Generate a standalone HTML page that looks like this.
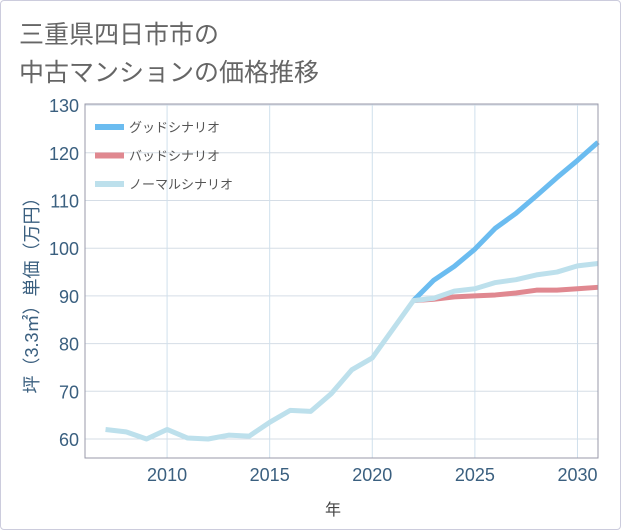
<!DOCTYPE html>
<html><head><meta charset="utf-8"><style>
body{margin:0;background:#fff;font-family:"Liberation Sans","Noto Sans CJK JP",sans-serif}
#wrap{position:relative;width:619px;height:528px;border:1px solid #ccd;border-radius:4px;overflow:hidden}
</style></head><body>
<div id="wrap">
<svg id="c" width="619" height="528">
<text x="18" y="42" font-size="25" fill="#666">三重県四日市市の</text>
<text x="18" y="80" font-size="25" fill="#666">中古マンションの価格推移</text>
<g id="grid"></g><g id="series"></g>
<rect x="84" y="103" width="513" height="354" fill="none" stroke="#99a" stroke-width="1"/>
<g id="legend"></g>
<text x="332" y="514" font-size="16" fill="#444" text-anchor="middle">年</text>
<text transform="translate(37,290) rotate(-90)" font-size="18" fill="#3a5f7f" text-anchor="middle">坪（3.3㎡）単価（万円）</text>
</svg></div>
<script>
const years=[2007,2008,2009,2010,2011,2012,2013,2014,2015,2016,2017,2018,2019,2020,2021,2022,2023,2024,2025,2026,2027,2028,2029,2030,2031];
const normal=[62,61.5,60,62,60.2,60,60.8,60.6,63.5,66,65.8,69.5,74.5,77,83,89,89.5,91,91.5,92.8,93.4,94.4,95,96.3,96.8];
const futureYears=[2022,2023,2024,2025,2026,2027,2028,2029,2030,2031];
const good=[89,93.3,96.2,99.8,104.2,107.3,111,114.8,118.4,122.2];
const bad=[89,89.3,89.8,90,90.2,90.6,91.2,91.2,91.5,91.8];
const yTicks=[60,70,80,90,100,110,120,130];
const xTicks=[2010,2015,2020,2025,2030];
const ns="http://www.w3.org/2000/svg";
const X=v=>84+(v-2006)*20.52, Y=v=>438-(v-60)*4.77;
const grid=document.getElementById('grid'), ser=document.getElementById('series'), leg=document.getElementById('legend');
function mk(tag,at,par){const e=document.createElementNS(ns,tag);for(const k in at)e.setAttribute(k,at[k]);par.appendChild(e);return e;}
yTicks.forEach(t=>{const l=mk('line',{x1:84,x2:597,y1:Y(t),y2:Y(t),stroke:'#d5dde6'},grid);


const tx=mk('text',{x:78,y:Y(t)+7,'font-size':18,fill:'#3a5f7f','text-anchor':'end'},grid);tx.textContent=t;

});
xTicks.forEach(t=>{const l=mk('line',{x1:X(t),x2:X(t),y1:103,y2:457,stroke:'#d0e0ec'},grid);


const tx=mk('text',{x:X(t),y:480,'font-size':18,fill:'#3a5f7f','text-anchor':'middle'},grid);tx.textContent=t;

});
function line(xs,vs,col,name){const p=mk('polyline',{points:xs.map((x,i)=>X(x)+','+Y(vs[i])).join(' '),fill:'none',stroke:col,'stroke-width':5,'stroke-linejoin':'round'},ser);

}
line(futureYears,good,'#6bbcf0','good-scenario-line');
line(futureYears,bad,'#e08890','bad-scenario-line');
line(years,normal,'#bde0ec','normal-scenario-line');
[['グッドシナリオ','#6bbcf0'],['バッドシナリオ','#e08890'],['ノーマルシナリオ','#bde0ec']].forEach((d,i)=>{const y=126+i*28.5;
const r=mk('rect',{x:94,y:y-3,width:29,height:6,fill:d[1]},leg);


const t=mk('text',{x:128,y:y+5,'font-size':13,fill:'#555'},leg);t.textContent=d[0];

});
</script></body></html>
